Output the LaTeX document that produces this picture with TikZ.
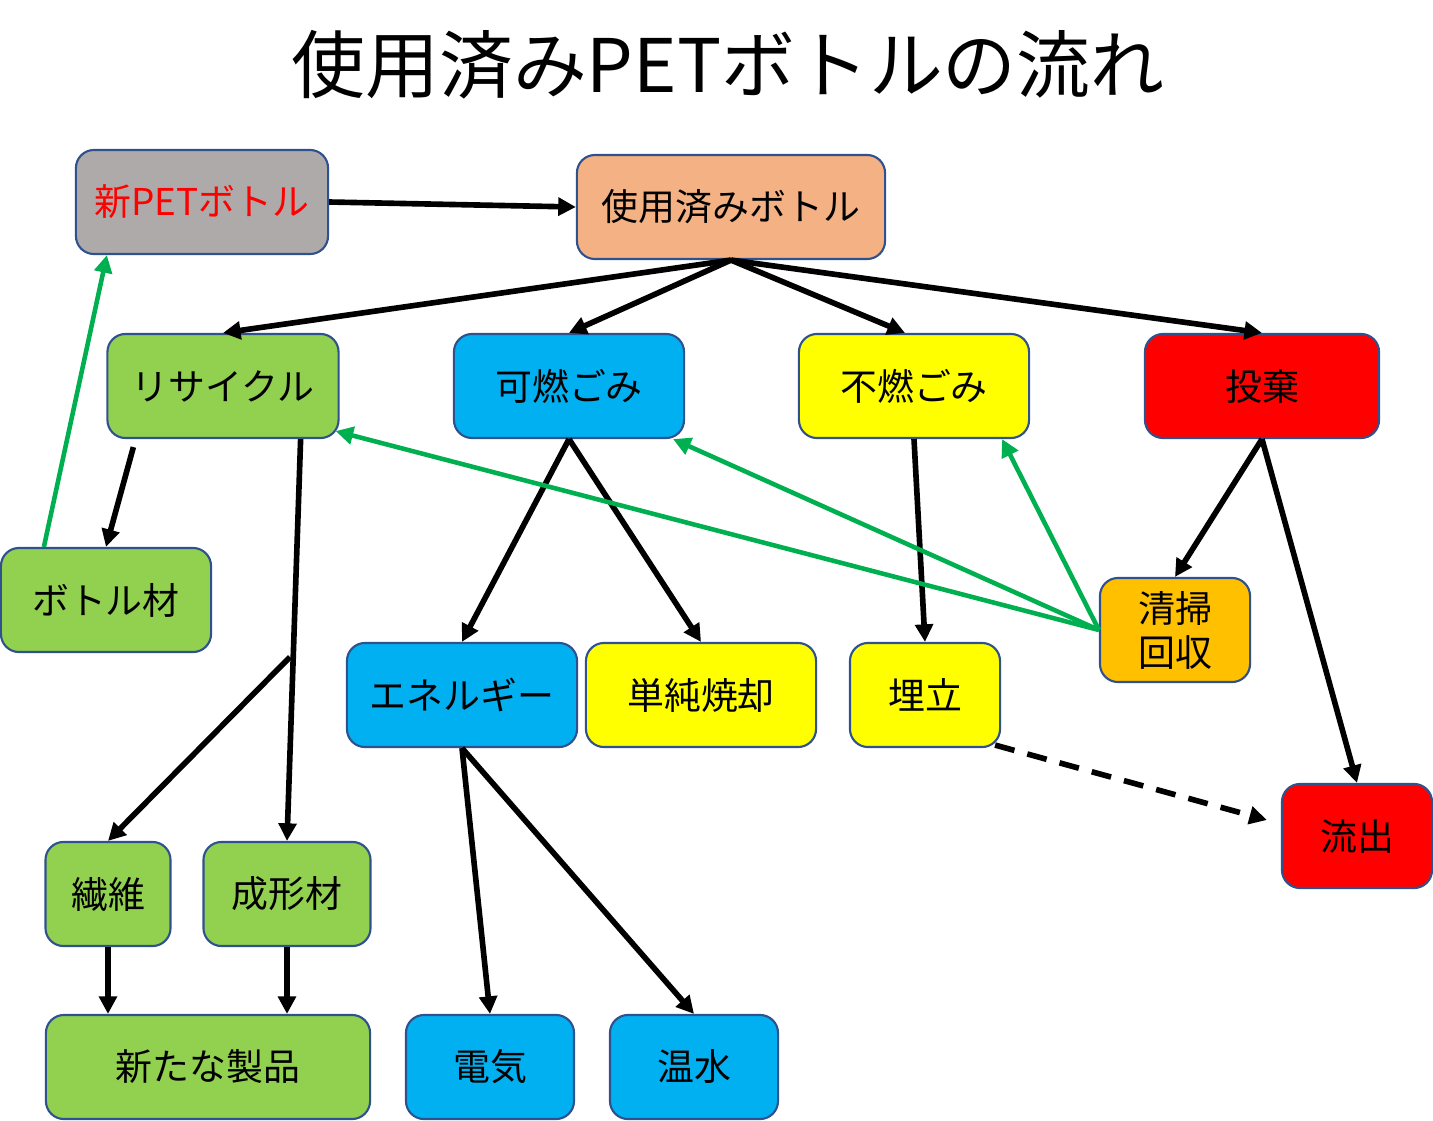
\documentclass[tikz,border=0pt]{standalone}
\usepackage{fontspec}
\setmainfont{Noto Sans CJK JP}
\usepackage{xcolor}
\usepackage{tikz}
\usetikzlibrary{arrows.meta, positioning, calc}

\definecolor{edgeblue}{HTML}{2F528F}
\definecolor{boxgray}{HTML}{AEAAAA}
\definecolor{boxpeach}{HTML}{F4B183}
\definecolor{boxgreen}{HTML}{92D050}
\definecolor{boxcyan}{HTML}{00B0F0}
\definecolor{boxyellow}{HTML}{FFFF00}
\definecolor{boxred}{HTML}{FF0000}
\definecolor{boxamber}{HTML}{FFC000}
\definecolor{arrowgreen}{HTML}{00B050}

\begin{document}
\begin{tikzpicture}[
                x=0.01cm, y=-0.01cm,
                font=\fontsize{10.5}{12.5}\selectfont,
                box/.style={rectangle, rounded corners=0.18cm, draw=edgeblue, line width=0.6pt,
                            minimum height=1.04cm, inner sep=2pt, align=center},
                flow/.style={line width=1.6pt, -{Triangle[length=5pt,width=5pt]}},
                back/.style={draw=arrowgreen, line width=1.3pt, -{Triangle[length=5pt,width=5pt]}}
            ]
                \useasboundingbox (0,0) rectangle (1433,1121);

                % Title
                \node[font=\fontsize{21}{24}\selectfont] (title) at (728,65) {使用済みPETボトルの流れ};

                % Top row
                \node[box, fill=boxgray, text=red, minimum width=2.52cm] (newpet) at (202,202) {新PETボトル};
                \node[box, fill=boxpeach, minimum width=3.08cm] (used) at (731,207) {使用済みボトル};

                % Second row
                \node[box, fill=boxgreen, minimum width=2.31cm] (recycle) at (223,386) {リサイクル};
                \node[box, fill=boxcyan, minimum width=2.30cm] (burn) at (569,386) {可燃ごみ};
                \node[box, fill=boxyellow, minimum width=2.30cm] (nonburn) at (914,386) {不燃ごみ};
                \node[box, fill=boxred, minimum width=2.34cm] (dump) at (1262,386) {投棄};

                % Middle
                \node[box, fill=boxgreen, minimum width=2.10cm] (bottlemat) at (106,600) {ボトル材};
                \node[box, fill=boxcyan, minimum width=2.30cm] (energy) at (462,695) {エネルギー};
                \node[box, fill=boxyellow, minimum width=2.30cm] (incin) at (701,695) {単純焼却};
                \node[box, fill=boxyellow, minimum width=1.50cm] (landfill) at (925,695) {埋立};
                \node[box, fill=boxamber, minimum width=1.50cm] (cleanup) at (1175,630) {清掃\\回収};
                \node[box, fill=boxred, minimum width=1.50cm] (outflow) at (1357,836) {流出};

                % Bottom
                \node[box, fill=boxgreen, minimum width=1.25cm] (fiber) at (108,894) {繊維};
                \node[box, fill=boxgreen, minimum width=1.67cm] (molded) at (287,894) {成形材};
                \node[box, fill=boxgreen, minimum width=3.24cm] (product) at (208,1067) {新たな製品};
                \node[box, fill=boxcyan, minimum width=1.68cm] (power) at (490,1067) {電気};
                \node[box, fill=boxcyan, minimum width=1.68cm] (hotwater) at (694,1067) {温水};

                \coordinate (fork) at (290,657);

                % Flow
                \draw[flow] (newpet.east) -- (used.west);
                \draw[flow] (used.south) -- (recycle.north);
                \draw[flow] (used.south) -- (burn.north);
                \draw[flow] (used.south) -- ($(nonburn.north)+(-9,0)$);
                \draw[flow] (used.south) -- (dump.north);
                \draw[flow] ($(recycle.south west)+(27,8)$) -- (bottlemat.north);
                \draw[flow] ($(recycle.south east)+(-39,0)$) -- (molded.north);
                \draw[flow] (fork) -- (fiber.north);
                \draw[flow] (burn.south) -- (energy.north);
                \draw[flow] (burn.south) -- (incin.north);
                \draw[flow] (nonburn.south) -- (landfill.north);
                \draw[flow] (dump.south) -- (cleanup.north);
                \draw[flow] (dump.south) -- (outflow.north);
                \draw[flow] (energy.south) -- (power.north);
                \draw[flow] (energy.south) -- (hotwater.north);
                \draw[flow] (fiber.south) -- (fiber.south |- product.north);
                \draw[flow] (molded.south) -- (molded.south |- product.north);
                \draw[flow, dash pattern=on 5.7pt off 3.8pt] ($(landfill.south east)+(-6,-3)$) -- ($(outflow.west)+(-14,-16)$);

                % Return paths
                \draw[back] ($(bottlemat.north west)+(44,0)$) -- ($(newpet.south west)+(32,0)$);
                \draw[back] (cleanup.west) -- ($(recycle.south east)+(-4,-8)$);
                \draw[back] (cleanup.west) -- ($(burn.south east)+(-12,0)$);
                \draw[back] (cleanup.west) -- ($(nonburn.south east)+(-28,0)$);
            \end{tikzpicture}
\end{document}
